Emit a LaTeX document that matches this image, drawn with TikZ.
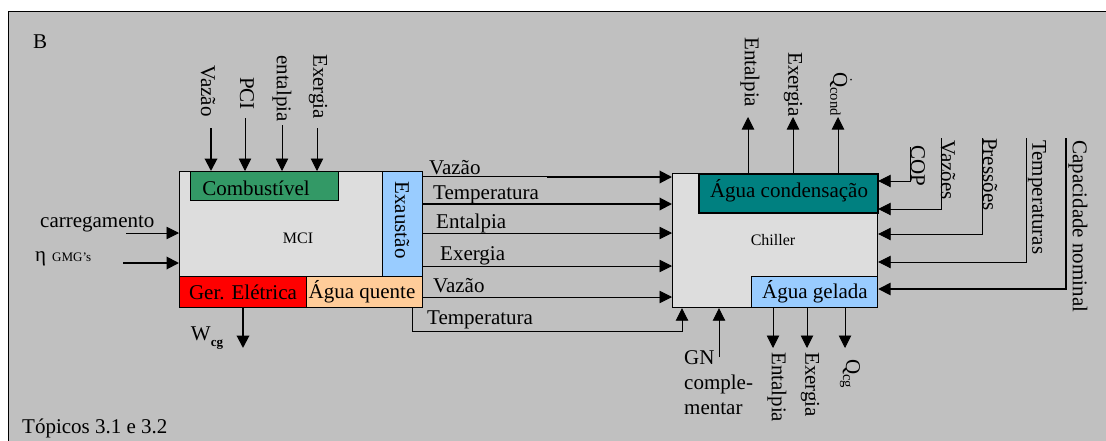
\documentclass[tikz,border=0pt]{standalone}
\usepackage{fontspec}
\setmainfont{Liberation Serif}
\usetikzlibrary{arrows.meta}
\definecolor{panel}{HTML}{C0C0C0}
\definecolor{unit}{HTML}{DDDDDD}
\definecolor{fuel}{HTML}{339966}
\definecolor{cond}{HTML}{008080}
\definecolor{power}{HTML}{FF0000}
\definecolor{hotw}{HTML}{FFCC99}
\definecolor{cold}{HTML}{99CCFF}
\begin{document}
\begin{tikzpicture}[x=1pt,y=-1pt,
  font=\fontsize{21}{25}\selectfont,
  box/.style={draw=black, line width=1.2pt, inner sep=0pt, anchor=north west},
  arr/.style={line width=0.9pt, -{Triangle[length=12.5pt,width=12.5pt]}},
  thk/.style={line width=2pt},
  vlab/.style={rotate=-90, anchor=west, inner sep=0pt},
  lab/.style={anchor=west, inner sep=0pt},
  small/.style={font=\fontsize{16}{19}\selectfont}]
\useasboundingbox (0,0) rectangle (1106,440);
% panel
\draw[fill=panel, line width=1pt] (8,450) -- (8,11) -- (1115,11) -- (1115,450) -- cycle;

% engine block
\node[box, fill=unit, minimum width=243pt, minimum height=136pt] (mci) at (179,171) {};
\node[box, fill=cold, minimum width=40pt, minimum height=105pt] (exaust) at (382,171) {};
\node[box, fill=power, minimum width=127pt, minimum height=31pt] (gen) at (179,276) {};
\node[box, fill=hotw, minimum width=116pt, minimum height=31pt] (aq) at (306,276) {};
\node[box, fill=fuel, minimum width=148pt, minimum height=29pt] (comb) at (190,171) {};
\node[small] (mcil) at (298,238) {MCI};
\node (combl) at (256,188) {Combustível};
\node[rotate=-90] (exl) at (402,220) {Exaustão};
\node (genl) at (243,292) {Ger. Elétrica};
\node (aql) at (362,292) {Água quente};

% chiller block
\node[box, fill=unit, minimum width=205pt, minimum height=134pt] (chiller) at (672,173) {};
\node[box, fill=cond, line width=1.8pt, minimum width=179pt, minimum height=39pt] (cnd) at (698,173) {};
\node[box, fill=cold, minimum width=126pt, minimum height=31pt] (gel) at (751,276) {};
\node[small] (chl) at (773,240) {Chiller};
\node (cndl) at (789,191) {Água condensação};
\node (gell) at (815,292) {Água gelada};

% general labels
\node[lab] (bl) at (33,42) {B};
\node[lab] (top) at (22,428) {Tópicos 3.1 e 3.2};

% fuel inputs
\coordinate (fv) at (211,128);
\coordinate (fp) at (245,118);
\coordinate (fe) at (282,125);
\coordinate (fx) at (317,128);
\draw[arr, thk] (fv) -- (fv |- mci.north);
\draw[arr] (fp) -- (fp |- mci.north);
\draw[arr] (fe) -- (fe |- mci.north);
\draw[arr] (fx) -- (fx |- mci.north);
\node[vlab] (lfv) at (208,65) {Vazão};
\node[vlab] (lfp) at (247,77) {PCI};
\node[vlab] (lfe) at (282,55) {entalpia};
\node[vlab] (lfx) at (318,54) {Exergia};

% left inputs
\coordinate (ca) at (126,233);
\coordinate (et) at (123,263);
\draw[arr] (ca) -- (ca -| mci.west);
\draw[arr, thk] (et) -- (et -| mci.west);
\node[lab] (lca) at (40,224) {carregamento};
\node[lab] (let) at (35,259) {η\hspace{6pt}{\fontsize{13}{15}\selectfont GMG’s}};

% electric output
\coordinate (wc) at (243,348);
\draw[arr, thk] (wc |- gen.south) -- (wc);
\node (lwc) at (207,338) {W\raisebox{-6pt}{\fontsize{13}{15}\selectfont\bfseries cg}};

% flows between the blocks
\coordinate (s1) at (547,177);
\draw[line width=0.9pt] (exaust.east |- 0,176) -- (s1 |- 0,176);
\draw[arr, thk] (s1) -- (chiller.west |- s1);
\coordinate (s2) at (422,204);
\draw[arr, thk] (s2) -- (chiller.west |- s2);
\coordinate (s3) at (422,233);
\draw[arr] (s3) -- (chiller.west |- s3);
\coordinate (s4) at (422,266);
\draw[arr] (s4) -- (chiller.west |- s4);
\coordinate (s5) at (422,297);
\draw[arr] (aq.east |- s5) -- (chiller.west |- s5);
\coordinate (tl) at (412,331);
\coordinate (tr) at (682,331);
\draw[arr] (tl |- aq.south) -- (tl) -- (tr) -- (tr |- chiller.south);
\node[lab] (ls1) at (429,168) {Vazão};
\node[lab] (ls2) at (433,195) {Temperatura};
\node[lab] (ls3) at (436,223) {Entalpia};
\node[lab] (ls4) at (440,256) {Exergia};
\node[lab] (ls5) at (433,286) {Vazão};
\node[lab] (ls6) at (427,320) {Temperatura};

% condenser outputs
\coordinate (o1) at (748,117);
\coordinate (o2) at (793,117);
\coordinate (o3) at (838,117);
\draw[arr] (o1 |- cnd.north) -- (o1);
\draw[arr] (o2 |- cnd.north) -- (o2);
\draw[arr] (o3 |- cnd.north) -- (o3);
\node[vlab] (lo1) at (750,37) {Entalpia};
\node[vlab] (lo2) at (793,52) {Exergia};
\node[vlab] (lo3) at (841,72) {$\dot{\mathrm{Q}}_{\mathrm{cond}}$};

% parameters into the chiller
\coordinate (pc) at (910,147);
\coordinate (pv) at (941,138);
\coordinate (pp) at (982,138);
\coordinate (pt) at (1026,138);
\coordinate (pn) at (1066,138);
\draw[arr] (pc) |- (chiller.east |- 0,181);
\draw[arr] (pv) |- (chiller.east |- 0,209);
\draw[arr] (pp) |- (chiller.east |- 0,234);
\draw[arr] (pt) |- (chiller.east |- 0,262);
\draw[arr, line width=1.5pt] (pn) |- (chiller.east |- 0,289);
\node[vlab] (lpc) at (918,145) {COP};
\node[vlab] (lpv) at (948,140) {Vazões};
\node[vlab] (lpp) at (990,138) {Pressões};
\node[vlab] (lpt) at (1037,140) {Temperaturas};
\node[vlab] (lpn) at (1078,140) {Capacidade nominal};

% chilled water outputs
\coordinate (g1) at (773,348);
\coordinate (g2) at (807,348);
\coordinate (g3) at (845,348);
\draw[arr] (g1 |- gel.south) -- (g1);
\draw[arr] (g2 |- gel.south) -- (g2);
\draw[arr] (g3 |- gel.south) -- (g3);
\node[vlab] (lg1) at (777,352) {Entalpia};
\node[vlab] (lg2) at (810,352) {Exergia};
\node[vlab] (lg3) at (850,359) {$\mathrm{Q}_{\mathrm{cg}}$};

% supplementary gas
\coordinate (gn) at (719,357);
\draw[arr] (gn) -- (gn |- chiller.south);
\node[anchor=north west, inner sep=0pt, align=left, font=\fontsize{21}{25}\selectfont] (lgn) at (684,350) {GN\\comple-\\mentar};
\end{tikzpicture}
\end{document}
